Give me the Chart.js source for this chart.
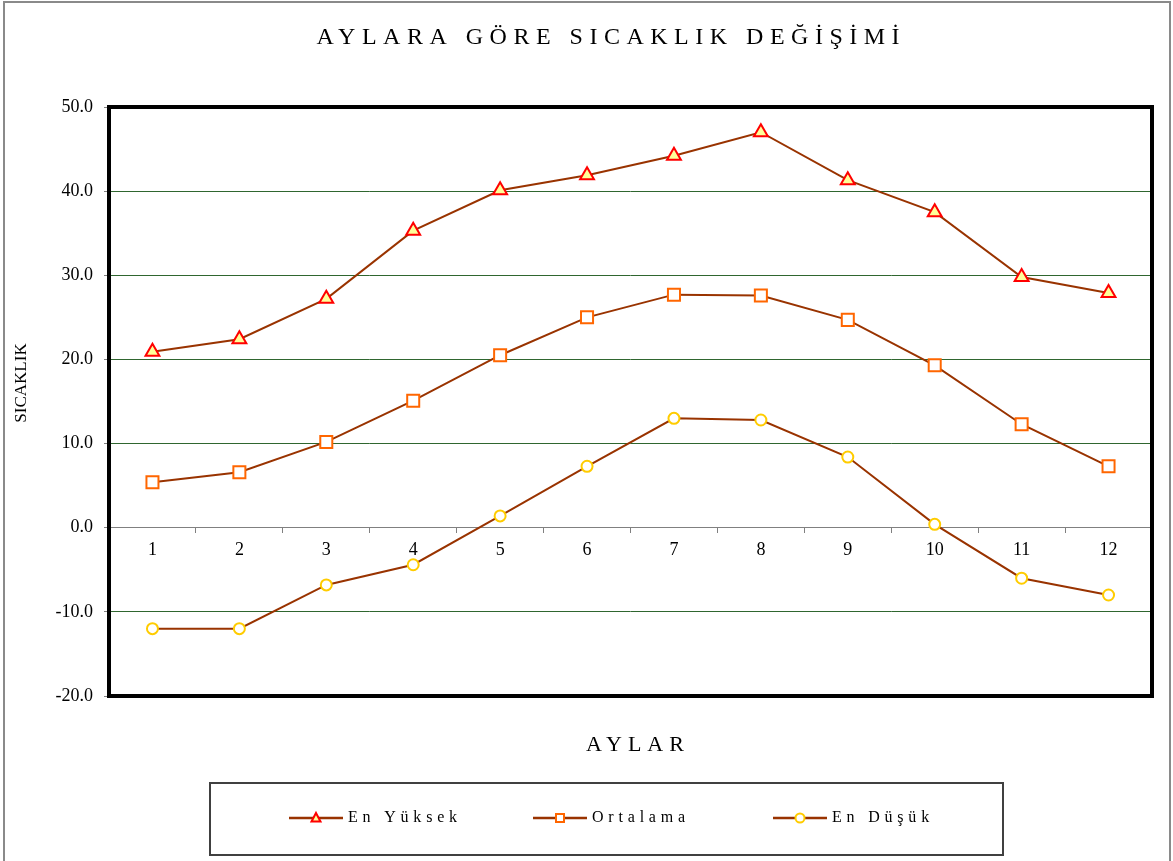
<!DOCTYPE html>
<html>
<head>
<meta charset="utf-8">
<title>Aylara Göre Sıcaklık Değişimi</title>
<script src="https://cdn.jsdelivr.net/npm/chart.js@4.4.1/dist/chart.umd.min.js"></script>
<style>
  html, body { margin: 0; padding: 0; background: #fff; }
</style>
</head>
<body>
<canvas id="tempChart" width="1173" height="861"></canvas>
<script>
// Data
const months = ['1', '2', '3', '4', '5', '6', '7', '8', '9', '10', '11', '12'];
const maxTemps = [20.9, 22.4, 27.2, 35.3, 40.1, 41.9, 44.2, 47.0, 41.3, 37.5, 29.8, 27.9];
const avgTemps = [5.4, 6.6, 10.2, 15.1, 20.5, 25.0, 27.7, 27.6, 24.7, 19.3, 12.3, 7.3];
const minTemps = [-12.0, -12.0, -6.8, -4.4, 1.4, 7.3, 13.0, 12.8, 8.4, 0.4, -6.0, -8.0];
const seriesNames = ['En Yüksek', 'Ortalama', 'En Düşük'];

const chartTitle = 'AYLARA GÖRE SICAKLIK DEĞİŞİMİ';
const xTitle = 'AYLAR';
const yTitle = 'SICAKLIK';

const SERIF = "'Liberation Serif', 'Times New Roman', serif";
const LINE_COLOR = '#993300';

// small marker helper (used for the legend)
function drawMarker(ctx, style, x, y, r, fill, stroke, lw) {
    ctx.save();
    ctx.beginPath();
    if (style === 'triangle') {
        ctx.moveTo(x, y - r);
        ctx.lineTo(x + r * 0.9, y + r * 0.7);
        ctx.lineTo(x - r * 0.9, y + r * 0.7);
        ctx.closePath();
    } else if (style === 'rect') {
        ctx.rect(x - r, y - r, r * 2, r * 2);
    } else {
        ctx.arc(x, y, r, 0, Math.PI * 2);
    }
    ctx.fillStyle = fill;
    ctx.fill();
    ctx.lineWidth = lw;
    ctx.strokeStyle = stroke;
    ctx.stroke();
    ctx.restore();
}

function spacedText(ctx, text, x, y, font, spacing, align) {
    ctx.save();
    ctx.font = font;
    ctx.fillStyle = '#000';
    ctx.textBaseline = 'middle';
    ctx.letterSpacing = spacing + 'px';
    let w = ctx.measureText(text).width;
    let startX = x;
    if (align === 'center') startX = x - w / 2 + spacing / 2;
    ctx.textAlign = 'left';
    ctx.fillText(text, startX, y);
    ctx.restore();
}

// Excel-like frame, title, axis titles and legend
const excelDecor = {
    id: 'excelDecor',
    beforeDraw(chart) {
        const ctx = chart.ctx;
        ctx.save();
        ctx.fillStyle = '#fff';
        ctx.fillRect(0, 0, chart.width, chart.height);
        ctx.strokeStyle = '#8a8a8a';
        ctx.lineWidth = 2;
        ctx.strokeRect(4, 2, 1166, 900);
        ctx.restore();
    },
    beforeDatasetsDraw(chart) {
        const ctx = chart.ctx;
        const a = chart.chartArea;
        ctx.save();
        ctx.strokeStyle = '#000';
        ctx.lineWidth = 4;
        ctx.strokeRect(a.left, a.top, a.right - a.left, a.bottom - a.top);
        ctx.restore();
    },
    afterDraw(chart) {
        const ctx = chart.ctx;

        // Title
        spacedText(ctx, chartTitle, 608, 38, '24px ' + SERIF, 6.5, 'center');

        // X axis title
        spacedText(ctx, xTitle, 635, 745, '22px ' + SERIF, 6, 'center');

        // Y axis title (rotated)
        ctx.save();
        ctx.translate(22, 383);
        ctx.rotate(-Math.PI / 2);
        ctx.font = '17px ' + SERIF;
        ctx.fillStyle = '#000';
        ctx.textAlign = 'center';
        ctx.textBaseline = 'middle';
        ctx.fillText(yTitle, 0, 0);
        ctx.restore();

        // Legend box
        ctx.save();
        ctx.strokeStyle = '#404040';
        ctx.lineWidth = 2;
        ctx.strokeRect(210, 783, 793, 72);
        ctx.restore();

        const legendX = [316, 560, 800];
        const legendY = 818;
        chart.data.datasets.forEach((ds, i) => {
            const cx = legendX[i];
            ctx.save();
            ctx.strokeStyle = ds.borderColor;
            ctx.lineWidth = 2.5;
            ctx.beginPath();
            ctx.moveTo(cx - 27, legendY);
            ctx.lineTo(cx + 27, legendY);
            ctx.stroke();
            ctx.restore();
            const r = ds.pointStyle === 'rect' ? 4 : (ds.pointStyle === 'triangle' ? 5 : 4.5);
            drawMarker(ctx, ds.pointStyle, cx, legendY, r, ds.pointBackgroundColor, ds.pointBorderColor, 2);
            spacedText(ctx, ds.label, cx + 32, legendY, '16px ' + SERIF, 4.8, 'left');
        });
    }
};

const ctx = document.getElementById('tempChart').getContext('2d');
Chart.defaults.font.family = SERIF;
Chart.defaults.color = '#000';

new Chart(ctx, {
    type: 'line',
    data: {
        labels: months,
        datasets: [
            {
                label: seriesNames[0],
                data: maxTemps,
                borderColor: LINE_COLOR,
                borderWidth: 2,
                pointStyle: 'triangle',
                pointRadius: 8,
                pointBorderWidth: 2,
                pointBorderColor: '#ff0000',
                pointBackgroundColor: '#ffff99',
                tension: 0
            },
            {
                label: seriesNames[1],
                data: avgTemps,
                borderColor: LINE_COLOR,
                borderWidth: 2,
                pointStyle: 'rect',
                pointRadius: 8.5,
                pointBorderWidth: 2,
                pointBorderColor: '#ff6600',
                pointBackgroundColor: '#ffffff',
                tension: 0
            },
            {
                label: seriesNames[2],
                data: minTemps,
                borderColor: LINE_COLOR,
                borderWidth: 2,
                pointStyle: 'circle',
                pointRadius: 5.5,
                pointBorderWidth: 2,
                pointBorderColor: '#ffcc00',
                pointBackgroundColor: '#ffffff',
                tension: 0
            }
        ]
    },
    options: {
        responsive: false,
        animation: false,
        layout: { padding: { top: 107, bottom: 165, left: 0, right: 21 } },
        plugins: {
            legend: { display: false },
            title: { display: false },
            tooltip: { enabled: false }
        },
        scales: {
            x: {
                position: { y: 0 },
                offset: true,
                grid: {
                    offset: true,
                    drawOnChartArea: false,
                    drawTicks: true,
                    tickLength: 5,
                    tickColor: '#808080'
                },
                border: { color: '#808080', width: 1 },
                ticks: { font: { size: 18 }, padding: 7, maxRotation: 0 }
            },
            y: {
                min: -20,
                max: 50,
                afterFit(scale) { scale.width = 109; },
                grid: {
                    color: '#2f662f',
                    lineWidth: 1,
                    tickLength: 5,
                    tickColor: '#808080'
                },
                border: { display: false },
                ticks: {
                    stepSize: 10,
                    padding: 11,
                    font: { size: 18 },
                    callback: (v) => v.toFixed(1)
                }
            }
        }
    },
    plugins: [excelDecor]
});
</script>
</body>
</html>
